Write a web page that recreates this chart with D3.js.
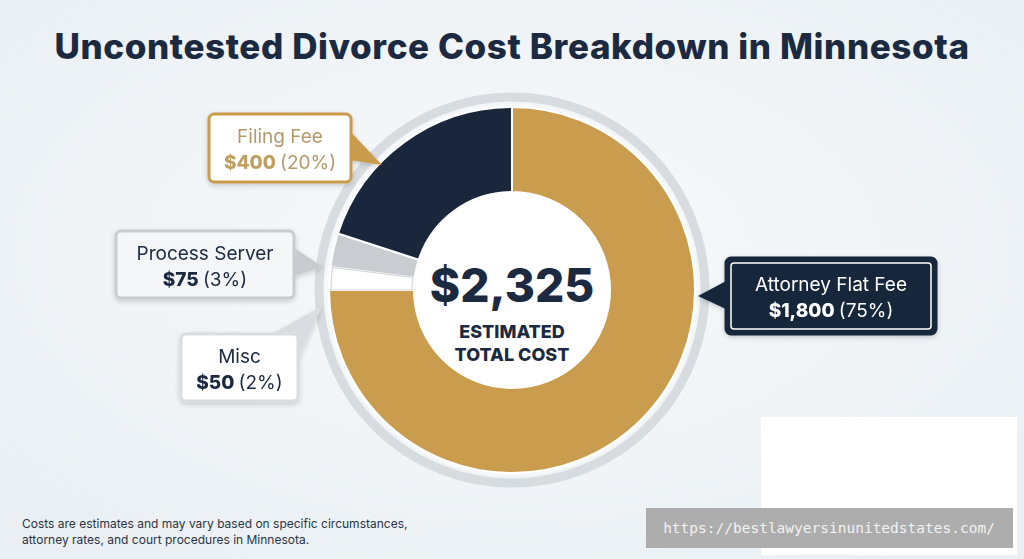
<!DOCTYPE html>
<html><head><meta charset="utf-8">
<script src="https://cdn.jsdelivr.net/npm/d3@7"></script>
<style>body{margin:0;background:#f0f4f7;} svg{display:block;font-family:Inter,"Open Sans",sans-serif;}</style>
</head><body>
<svg id="c" width="1024" height="559"></svg>
<script>
const categories = ["Attorney Flat Fee","Misc","Process Server","Filing Fee"];
const values = [1800, 50, 75, 400];
const shares = [75, 2, 3, 20];
const pctLabels = ["(75%)","(2%)","(3%)","(20%)"];
const amountLabels = ["$1,800","$50","$75","$400"];
const colors = ["#c99c4e","#ffffff","#c9cdd1","#19263b"];
const total = "$2,325";

const svg = d3.select("#c");
const defs = svg.append("defs");
const g0 = defs.append("radialGradient").attr("id","bg").attr("cx","50%").attr("cy","45%").attr("r","70%");
g0.append("stop").attr("offset","0%").attr("stop-color","#f8fafc");
g0.append("stop").attr("offset","100%").attr("stop-color","#e9eff3");
const f = defs.append("filter").attr("id","sh").attr("x","-20%").attr("y","-20%").attr("width","140%").attr("height","150%");
f.append("feDropShadow").attr("dx",0).attr("dy",2).attr("stdDeviation",2.5).attr("flood-color","#000").attr("flood-opacity",0.18);

svg.append("rect").attr("width",1024).attr("height",559).attr("fill","url(#bg)");
svg.append("text").attr("x",512).attr("y",59).attr("text-anchor","middle").attr("letter-spacing",0.6)
  .attr("font-size",35).attr("font-weight",800).attr("fill","#1b2a41").text("Uncontested Divorce Cost Breakdown in Minnesota");

const cx=512, cy=290;
svg.append("circle").attr("cx",cx).attr("cy",cy).attr("r",193).attr("fill","none").attr("stroke","#d7dce0").attr("stroke-width",9);
svg.append("circle").attr("cx",cx).attr("cy",cy).attr("r",186).attr("fill","#f7f9fb");
const pie = d3.pie().sort(null).value(d=>d)(shares);
const arc = d3.arc().innerRadius(98).outerRadius(183);
const gp = svg.append("g").attr("transform",`translate(${cx},${cy})`);
gp.selectAll("path").data(pie).join("path").attr("d",arc)
  .attr("fill",(d,i)=>colors[i]).attr("stroke","#ffffff").attr("stroke-width",2);
gp.append("path").attr("d",d3.arc().innerRadius(100).outerRadius(181)(pie[1]))
  .attr("fill","none").attr("stroke","#d3d7db").attr("stroke-width",1.2);
gp.append("circle").attr("r",97).attr("fill","#ffffff");
gp.append("text").attr("y",12).attr("text-anchor","middle").attr("font-size",46).attr("font-weight",800).attr("fill","#1b2a41").text(total);
gp.append("text").attr("y",48).attr("text-anchor","middle").attr("font-size",18).attr("font-weight",800).attr("fill","#1b2a41").text("ESTIMATED");
gp.append("text").attr("y",71).attr("text-anchor","middle").attr("font-size",18).attr("font-weight",800).attr("fill","#1b2a41").text("TOTAL COST");

const callouts = [
 {i:0, box:[726,258,210,76], tip:[698,296], side:"left", fill:"#19263b", stroke:"#19263b", inner:"#ffffff", t1:"#ffffff", t2:"#ffffff", bold:"#ffffff"},
 {i:1, box:[181,334,117,67], tip:[322,306], side:"topright", fill:"#ffffff", stroke:"#d9dde1", t1:"#1b2a41", t2:"#1b2a41", bold:"#1b2a41"},
 {i:2, box:[116,231,178,67], tip:[323,267], side:"right", fill:"#f4f6f8", stroke:"#c8ccd0", t1:"#1b2a41", t2:"#1b2a41", bold:"#1b2a41"},
 {i:3, box:[209,114,142,68], tip:[382,165], side:"right", fill:"#ffffff", stroke:"#c99c4e", t1:"#b49a6b", t2:"#b49a6b", bold:"#c0a062"}
];
callouts.forEach(c=>{
  const [x,y,w,h]=c.box, g=svg.append("g").attr("filter","url(#sh)");
  let ptr;
  if(c.side==="left") ptr=[[x+2,y+h/2-16],c.tip,[x+2,y+h/2+14]];
  else if(c.side==="right") ptr=[[x+w-2,y+h/2-18],c.tip,[x+w-2,y+h/2+12]];
  else ptr=[[x+w-30,y+2],c.tip,[x+w-2,y+30]];
  g.append("path").attr("d",d3.line()(ptr)+"Z").attr("fill",c.stroke);
  g.append("rect").attr("x",x).attr("y",y).attr("width",w).attr("height",h).attr("rx",5)
   .attr("fill",c.fill).attr("stroke",c.stroke).attr("stroke-width",3);
  if(c.inner) g.append("rect").attr("x",x+5).attr("y",y+5).attr("width",w-10).attr("height",h-10).attr("rx",3)
   .attr("fill","none").attr("stroke",c.inner).attr("stroke-width",1.5);
  g.append("text").attr("x",x+w/2).attr("y",y+h/2-5).attr("text-anchor","middle").attr("font-size",19).attr("fill",c.t1).text(categories[c.i]);
  const t=g.append("text").attr("x",x+w/2).attr("y",y+h/2+21).attr("text-anchor","middle").attr("font-size",19).attr("fill",c.t2);
  t.append("tspan").attr("font-weight",800).attr("fill",c.bold).text(amountLabels[c.i]+" ");
  t.append("tspan").text(pctLabels[c.i]);
});

svg.append("text").attr("x",22).attr("y",528).attr("font-size",12).attr("fill","#2b3445").text("Costs are estimates and may vary based on specific circumstances,");
svg.append("text").attr("x",22).attr("y",544).attr("font-size",12).attr("fill","#2b3445").text("attorney rates, and court procedures in Minnesota.");

svg.append("rect").attr("x",761).attr("y",417).attr("width",256).attr("height",138).attr("fill","#ffffff");
svg.append("rect").attr("x",646).attr("y",508).attr("width",367).attr("height",40).attr("fill","#adadad");
svg.append("text").attr("x",829).attr("y",533).attr("text-anchor","middle").attr("font-family","'DejaVu Sans Mono',monospace").attr("font-size",14.5).attr("fill","#f2f2f2").text("https://bestlawyersinunitedstates.com/");
</script></body></html>
